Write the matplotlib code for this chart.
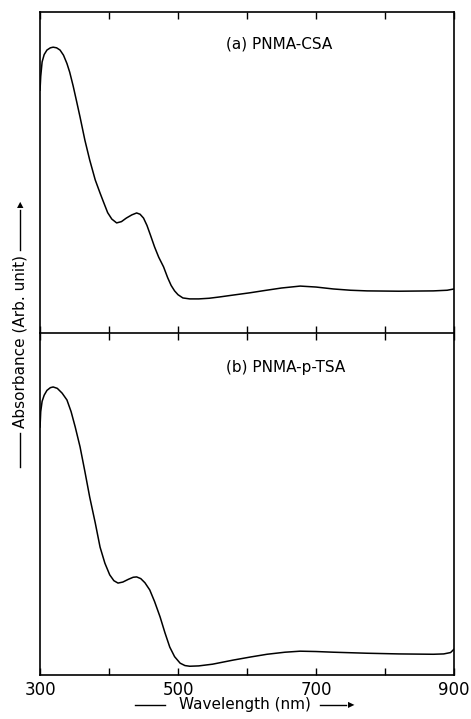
#!/usr/bin/env python3
# -*- coding: utf-8 -*-

import matplotlib
matplotlib.use('Agg')
import matplotlib.pyplot as plt

# Spectrum (a) PNMA-CSA (arb. units)
wl_a = [300, 301, 303, 306, 310, 315, 319, 324, 329, 334, 339, 343, 348,
        353, 358, 365, 372, 380, 387, 392, 398, 404, 411, 418, 425, 433,
        440, 445, 450, 455, 460, 466, 472, 479, 485, 490, 495, 500, 507,
        517, 530, 545, 560, 580, 604, 625, 650, 677, 700, 725, 750, 774,
        820, 870, 890, 900]
abs_a = [0.757, 0.80, 0.845, 0.868, 0.882, 0.889, 0.891, 0.889, 0.882,
         0.866, 0.840, 0.813, 0.770, 0.722, 0.673, 0.601, 0.539, 0.477,
         0.436, 0.408, 0.375, 0.355, 0.343, 0.347, 0.358, 0.368, 0.374,
         0.370, 0.358, 0.335, 0.305, 0.268, 0.236, 0.206, 0.172, 0.148,
         0.131, 0.119, 0.109, 0.106, 0.106, 0.108, 0.112, 0.118, 0.125,
         0.132, 0.140, 0.146, 0.143, 0.137, 0.133, 0.131, 0.130, 0.131,
         0.133, 0.137]

# Spectrum (b) PNMA-p-TSA
wl_b = [300, 301, 303, 306, 310, 315, 319, 325, 332, 339, 345, 351, 358,
        365, 372, 380, 387, 394, 401, 407, 413, 420, 428, 435, 440, 446,
        452, 459, 466, 474, 481, 488, 495, 503, 510, 517, 530, 550, 580,
        605, 629, 655, 677, 700, 725, 774, 820, 870, 885, 895, 900]
abs_b = [0.725, 0.77, 0.80, 0.818, 0.832, 0.840, 0.842, 0.838, 0.824,
         0.804, 0.770, 0.725, 0.667, 0.595, 0.520, 0.445, 0.374, 0.327,
         0.293, 0.276, 0.269, 0.272, 0.280, 0.286, 0.287, 0.282, 0.270,
         0.249, 0.215, 0.170, 0.124, 0.082, 0.054, 0.035, 0.028, 0.026,
         0.027, 0.032, 0.044, 0.053, 0.061, 0.067, 0.070, 0.069, 0.067,
         0.064, 0.062, 0.061, 0.062, 0.066, 0.076]

labels = ['(a) PNMA-CSA', '(b) PNMA-p-TSA']
xticks = [300, 400, 500, 600, 700, 800, 900]
xticklabels = ['300', '', '500', '', '700', '', '900']

plt.rcParams['font.family'] = 'DejaVu Sans'

fig = plt.figure(figsize=(4.71, 7.19), dpi=100)
left, width = 0.085, 0.879
ax1 = fig.add_axes([left, 0.537, width, 0.446])
ax2 = fig.add_axes([left, 0.061, width, 0.476])

panels = [(ax1, wl_a, abs_a, labels[0]), (ax2, wl_b, abs_b, labels[1])]
for ax, x, y, lab in panels:
    ax.plot(x, y, color='black', lw=1.1)
    ax.set_xlim(300, 900)
    ax.set_ylim(0, 1)
    ax.set_yticks([])
    ax.set_xticks(xticks)
    ax.tick_params(axis='x', direction='in', top=True, bottom=True,
                   length=5, width=1, pad=4, labelsize=12)
    for sp in ax.spines.values():
        sp.set_linewidth(1.2)
    ax.text(0.45, 0.9, lab, transform=ax.transAxes, fontsize=11,
            ha='left', va='center')

ax1.tick_params(labelbottom=False)
ax1.spines['bottom'].set_visible(False)
ax2.set_xticklabels(xticklabels)

# y label with leading line and arrow
fig.text(0.042, 0.525, 'Absorbance (Arb. unit)', rotation=90,
         ha='center', va='center', fontsize=11)
fig.add_artist(plt.Line2D([0.042, 0.042], [0.35, 0.398],
                          color='black', lw=1.0))
fig.add_artist(plt.Line2D([0.042, 0.042], [0.652, 0.708],
                          color='black', lw=1.0))
fig.text(0.042, 0.715, '▲', ha='center', va='center', fontsize=6)

# x label with leading line and arrow
fig.text(0.52, 0.01, 'Wavelength (nm)', ha='center', va='bottom',
         fontsize=11)
fig.add_artist(plt.Line2D([0.287, 0.35], [0.02, 0.02],
                          color='black', lw=1.0))
fig.add_artist(plt.Line2D([0.68, 0.735], [0.02, 0.02],
                          color='black', lw=1.0))
fig.text(0.745, 0.02, '▶', ha='center', va='center', fontsize=6)

fig.savefig('out.png', dpi=100, facecolor='white')
